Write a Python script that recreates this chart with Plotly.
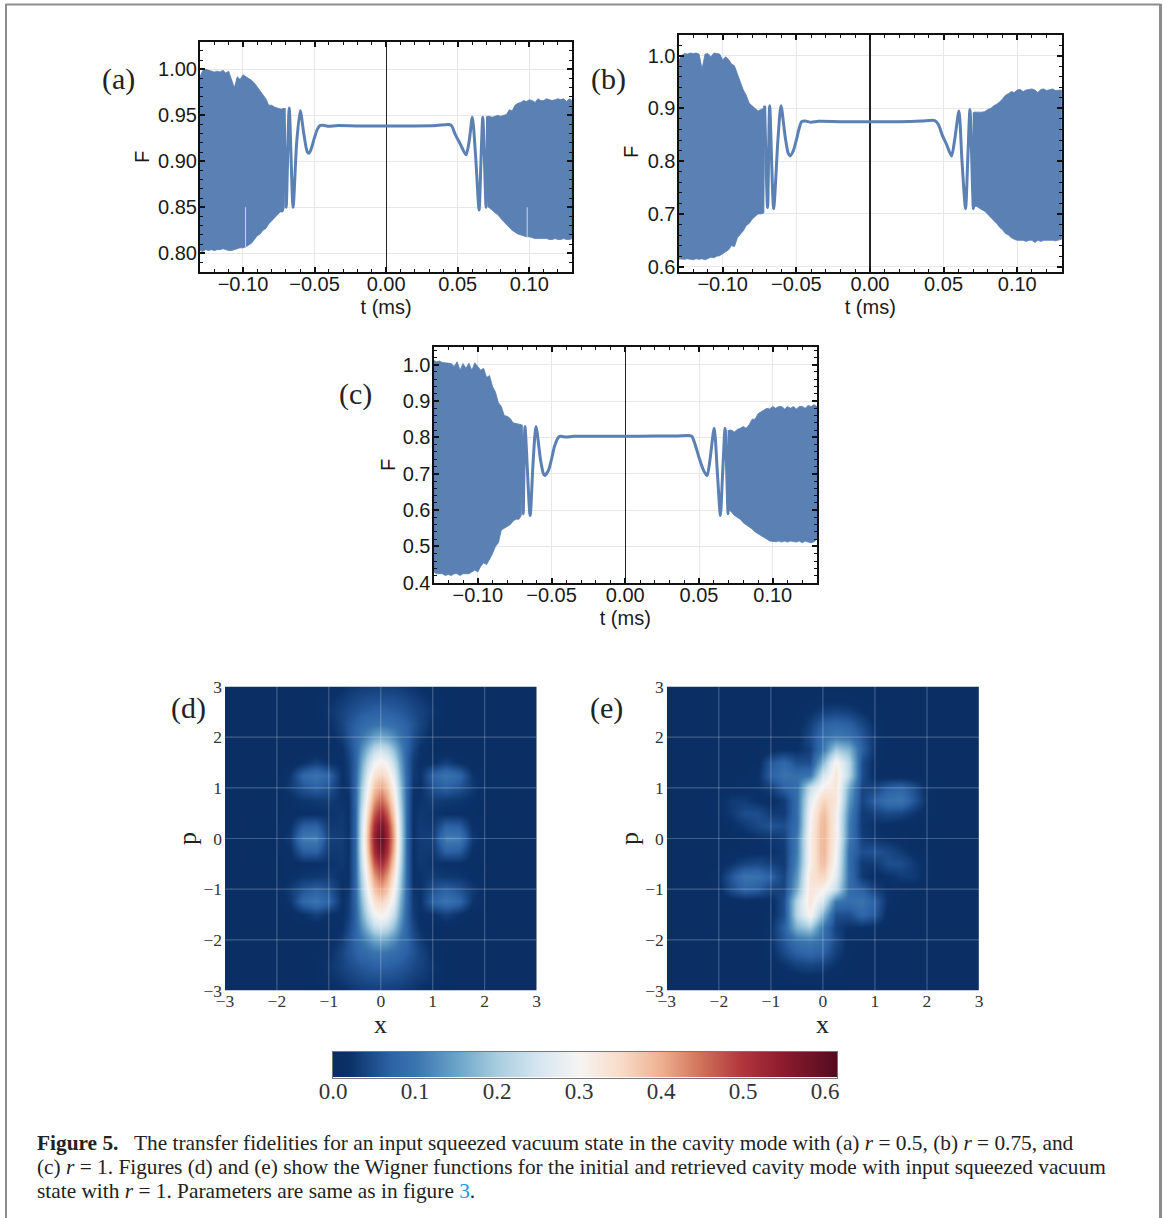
import numpy as np
import plotly.graph_objects as go

W, H = 1165, 1218
BLUE = "#5b80b4"

T_LEFT = [-.130,-.128,-.126,-.124,-.122,-.120,-.118,-.116,-.114,-.112,-.110,-.108,-.106,-.104,-.102,
          -.100,-.098,-.096,-.094,-.092,-.090,-.088,-.086,-.084,-.082,-.080,-.078,-.076,-.074,-.072]
T_RIGHT = [.072,.074,.076,.078,.080,.082,.084,.086,.088,.090,.092,.094,.096,.098,.100,
           .102,.104,.106,.108,.110,.112,.114,.116,.118,.120,.122,.124,.126,.128,.130]

# panel (a)
a_up_l = [.992,.999,1.0,.999,.998,.997,.998,.997,.999,.996,.998,.990,.980,.992,.989,.994,.992,.990,.988,.985,.981,.976,.972,.968,.961,.961,.959,.958,.957,.957]
a_lo_l = [.803,.802,.804,.803,.804,.803,.804,.804,.805,.804,.803,.803,.804,.805,.806,.806,.807,.809,.811,.815,.819,.821,.825,.827,.832,.835,.838,.842,.845,.845]
a_up_r = [.949,.948,.949,.950,.949,.950,.951,.956,.955,.961,.963,.964,.966,.965,.967,.966,.964,.968,.966,.966,.968,.967,.966,.967,.968,.967,.968,.965,.968,.966]
a_lo_r = [.850,.847,.844,.842,.838,.834,.831,.828,.825,.823,.821,.820,.819,.818,.818,.817,.816,.816,.816,.816,.816,.815,.815,.816,.815,.815,.816,.815,.815,.816]
a_edge = [-.0712, .957, .849, .0708, .949, .851]
a_ct = [-.0712,-.0698,-.0677,-.065,-.0625,-.060,-.0575,-.055,-.0537,-.052,-.050,-.048,-.046,-.044,-.040,-.035,-.02,0,.02,.035,.044,.046,.048,.052,.0558,.058,.0602,.0625,.0649,.0662,.0675,.0698,.0708]
a_cf = [.958,.85,.958,.85,.92,.955,.93,.91,.909,.915,.926,.935,.939,.9392,.938,.9388,.9385,.9385,.9385,.939,.94,.938,.93,.918,.907,.922,.948,.905,.847,.90,.948,.85,.949]

# panel (b)
b_up_l = [.990,1.000,1.004,1.003,1.005,1.004,1.005,1.003,.975,1.003,1.004,.998,1.005,1.004,1.003,.992,.998,.993,.984,.981,.965,.950,.935,.925,.910,.905,.900,.895,.898,.900]
b_lo_l = [.615,.615,.614,.615,.614,.613,.615,.614,.615,.613,.615,.618,.617,.620,.621,.625,.628,.632,.640,.638,.655,.662,.668,.678,.682,.690,.695,.700,.700,.702]
b_up_r = [.893,.892,.893,.894,.898,.900,.905,.908,.912,.918,.925,.928,.932,.930,.935,.936,.932,.935,.936,.937,.935,.930,.936,.937,.934,.935,.937,.934,.935,.935]
b_lo_r = [.715,.712,.708,.705,.700,.695,.688,.682,.675,.670,.663,.660,.655,.652,.650,.650,.650,.648,.650,.650,.646,.650,.648,.650,.650,.650,.650,.649,.650,.652]
b_edge = [-.0715, .905, .712, .0706, .893, .712]
b_ct = [-.0715,-.0695,-.0681,-.0654,-.0625,-.0604,-.0575,-.0555,-.0543,-.052,-.050,-.048,-.0464,-.044,-.040,-.035,-.02,0,.02,.035,.044,.0464,.049,.052,.0554,.0575,.0604,.0625,.0649,.0665,.0679,.0702,.0708]
b_cf = [.905,.712,.905,.71,.84,.905,.845,.815,.81,.82,.84,.863,.875,.876,.874,.8755,.875,.875,.875,.876,.877,.87,.85,.832,.81,.84,.895,.80,.71,.81,.898,.71,.893]

# panel (c)
c_up_l = [1.012,1.008,1.010,1.006,1.005,1.005,1.003,.995,1.008,.985,1.003,.990,1.004,.985,1.005,.995,.985,.990,.965,.970,.940,.925,.895,.885,.860,.858,.852,.840,.838,.835]
c_lo_l = [.430,.425,.425,.425,.420,.423,.420,.425,.425,.420,.425,.425,.425,.430,.435,.430,.445,.455,.450,.465,.480,.500,.510,.545,.550,.555,.560,.570,.575,.575]
c_up_r = [.820,.815,.822,.825,.830,.825,.835,.850,.850,.865,.870,.875,.880,.878,.885,.880,.885,.885,.878,.885,.880,.885,.878,.885,.885,.880,.888,.885,.890,.885]
c_lo_r = [.595,.585,.580,.575,.565,.560,.553,.548,.540,.535,.528,.525,.520,.515,.515,.513,.515,.512,.515,.512,.515,.513,.512,.515,.510,.515,.512,.510,.513,.520]
c_edge = [-.0705, .835, .585, .0704, .82, .60]
c_ct = [-.0705,-.0692,-.068,-.0645,-.0625,-.0605,-.0575,-.0555,-.0546,-.052,-.050,-.048,-.0454,-.044,-.040,-.035,-.02,0,.02,.035,.0449,.047,.050,.053,.0555,.0575,.0603,.0625,.0645,.066,.0677,.0697,.0704]
c_cf = [.835,.59,.83,.585,.73,.83,.74,.70,.695,.71,.74,.775,.80,.803,.801,.803,.803,.803,.804,.804,.804,.785,.745,.71,.695,.74,.825,.70,.585,.70,.825,.59,.82]

# thin pale slits in the band of panel (a)
a_slit_t = [-.0982, .0985]
a_slit_lo = [.806, .818]
a_slit_hi = [.85, .85]

# Wigner (d): quadrant x >= 0, p >= 0, mirrored to the other three
d_x = [0,.125,.25,.375,.5,.625,.75,1,1.25,1.5,1.75,2,2.5,3]
d_p = [0,.25,.5,.75,1,1.25,1.5,1.75,2,2.25,2.5,2.75,3]
d_q = [
 [.610,.530,.400,.240,.075,.022,.032,.035,.115,.110,.030,.012,.01,.01],
 [.580,.510,.385,.235,.075,.020,.030,.028,.070,.065,.020,.012,.01,.01],
 [.520,.465,.360,.225,.075,.020,.028,.022,.018,.018,.014,.010,.01,.01],
 [.460,.415,.330,.205,.075,.020,.022,.032,.028,.025,.018,.010,.01,.01],
 [.410,.375,.300,.190,.075,.025,.020,.055,.070,.055,.030,.012,.01,.01],
 [.360,.335,.270,.170,.075,.030,.020,.075,.100,.080,.025,.010,.01,.01],
 [.310,.290,.230,.150,.070,.032,.018,.020,.035,.020,.010,.010,.01,.01],
 [.240,.225,.180,.125,.072,.042,.020,.010,.010,.010,.010,.010,.01,.01],
 [.160,.150,.125,.098,.075,.052,.032,.012,.010,.010,.010,.010,.01,.01],
 [.100,.097,.090,.080,.068,.055,.040,.018,.011,.010,.010,.010,.01,.01],
 [.072,.070,.066,.061,.054,.046,.038,.025,.012,.010,.010,.010,.01,.01],
 [.052,.052,.050,.047,.042,.036,.030,.020,.012,.010,.010,.010,.01,.01],
 [.035,.035,.033,.031,.028,.024,.019,.012,.010,.010,.010,.010,.01,.01],
]

# Wigner (e): upper half, second half by 180-degree turn
e_x = [-3,-2.75,-2.5,-2.25,-2,-1.75,-1.5,-1.25,-1,-.75,-.5,-.25,0,.25,.5,.75,1,1.25,1.5,1.75,2,2.25,2.5,2.75,3]
e_p = [0,.25,.5,.75,1,1.25,1.5,1.75,2,2.25,2.5,2.75,3]
e_h = [
 [.01,.01,.01,.01,.01,.012,.015,.02,.025,.035,.11,.31,.40,.31,.11,.035,.025,.02,.015,.012,.01,.01,.01,.01,.01],
 [.01,.01,.01,.01,.012,.018,.03,.045,.055,.05,.09,.30,.40,.31,.11,.03,.02,.015,.012,.01,.01,.01,.01,.01,.01],
 [.01,.01,.01,.01,.015,.03,.05,.05,.03,.03,.09,.29,.39,.31,.12,.03,.035,.045,.04,.025,.012,.01,.01,.01,.01],
 [.01,.01,.01,.01,.015,.03,.03,.02,.015,.03,.09,.27,.36,.33,.14,.04,.07,.095,.10,.06,.02,.01,.01,.01,.01],
 [.01,.01,.01,.01,.01,.012,.015,.02,.035,.07,.09,.23,.31,.33,.16,.04,.04,.065,.075,.05,.015,.01,.01,.01,.01],
 [.01,.01,.01,.01,.01,.01,.012,.02,.07,.10,.09,.10,.25,.33,.22,.05,.012,.01,.01,.01,.01,.01,.01,.01,.01],
 [.01,.01,.01,.01,.01,.01,.01,.012,.06,.08,.05,.05,.17,.31,.22,.05,.015,.01,.01,.01,.01,.01,.01,.01,.01],
 [.01,.01,.01,.01,.01,.01,.01,.01,.015,.02,.02,.035,.10,.20,.17,.07,.022,.01,.01,.01,.01,.01,.01,.01,.01],
 [.01,.01,.01,.01,.01,.01,.01,.01,.01,.012,.015,.045,.09,.11,.10,.06,.025,.01,.01,.01,.01,.01,.01,.01,.01],
 [.01,.01,.01,.01,.01,.01,.01,.01,.01,.01,.015,.035,.07,.08,.07,.045,.018,.01,.01,.01,.01,.01,.01,.01,.01],
 [.01,.01,.01,.01,.01,.01,.01,.01,.01,.01,.012,.02,.035,.04,.035,.022,.012,.01,.01,.01,.01,.01,.01,.01,.01],
 [.01,.01,.01,.01,.01,.01,.01,.01,.01,.01,.01,.012,.015,.015,.015,.012,.01,.01,.01,.01,.01,.01,.01,.01,.01],
 [.01,.01,.01,.01,.01,.01,.01,.01,.01,.01,.01,.01,.01,.01,.01,.01,.01,.01,.01,.01,.01,.01,.01,.01,.01],
]

CB_MAX = 0.6146
cb_vals = [0,.02,.07,.10,.15,.20,.25,.30,.35,.40,.45,.50,.55,.60,CB_MAX]
cb_cols = ["#0b2d62","#0a3168","#2c62a6","#3a74ae","#6aa3c8","#a8cde0","#d6e6f0","#f6f4f2","#f8dcc9","#eeb08f","#cf6f58","#b0343c","#8b1a2e","#600f23","#500c1e"]
cb_ticks = [0,.1,.2,.3,.4,.5,.6]

cap1 = "<b>Figure 5.</b>\u00a0\u00a0 The transfer fidelities for an input squeezed vacuum state in the cavity mode with (a) <i>r</i> = 0.5, (b) <i>r</i> = 0.75, and"
cap2 = "(c) <i>r</i> = 1. Figures (d) and (e) show the Wigner functions for the initial and retrieved cavity mode with input squeezed vacuum"
cap3 = "state with <i>r</i> = 1. Parameters are same as in figure <span style='color:#1e9ad6'>3</span>."

SANS = "Liberation Sans"
SERIF = "Liberation Serif"
INK = "#1a1a1a"

fig = go.Figure()

def rect(ax, frame):
    l, r, t, b = frame
    fig.layout[f"xaxis{ax}"] = dict(domain=[l / W, r / W], anchor=f"y{ax}", automargin=False)
    fig.layout[f"yaxis{ax}"] = dict(domain=[1 - b / H, 1 - t / H], anchor=f"x{ax}", automargin=False)

def line_panel(ax, frame, xr, yr, ydt, ymn, yfmt, up_l, lo_l, up_r, lo_r, edge, ct, cf, zw):
    rect(ax, frame)
    xs = f"x{ax}"; ys = f"y{ax}"
    el, eul, ell, er, eur, elr = edge
    tl = T_LEFT + [el]
    ul = up_l + [eul]; ll = lo_l + [ell]
    tr = [er] + T_RIGHT
    ur = [eur] + up_r; lr = [elr] + lo_r
    fig.add_trace(go.Scatter(x=tl + tl[::-1], y=ul + ll[::-1], fill="toself", fillcolor=BLUE, mode="lines",
                             line=dict(color=BLUE, width=0.8), xaxis=xs, yaxis=ys, showlegend=False, hoverinfo="skip"))
    fig.add_trace(go.Scatter(x=tr + tr[::-1], y=ur + lr[::-1], fill="toself", fillcolor=BLUE, mode="lines",
                             line=dict(color=BLUE, width=0.8), xaxis=xs, yaxis=ys, showlegend=False, hoverinfo="skip"))
    fig.add_trace(go.Scatter(x=ct, y=cf, mode="lines", line=dict(color=BLUE, width=3, shape="spline", smoothing=0.7),
                             xaxis=xs, yaxis=ys, showlegend=False))
    fig.layout[f"xaxis{ax}"].update(
        range=xr, tick0=0, dtick=.05, tickformat=".2f", ticks="inside", ticklen=5, tickwidth=1.5, tickcolor="#111",
        showline=True, linewidth=2, linecolor="#111", mirror="ticks", showgrid=True, gridcolor="#e8e8e8", gridwidth=1,
        zeroline=True, zerolinecolor="#222", zerolinewidth=zw, ticklabelstandoff=-7,
        minor=dict(dtick=.01, tick0=0, ticks="inside", ticklen=3, tickwidth=1, tickcolor="#111", showgrid=False),
        tickfont=dict(family=SANS, size=20, color=INK),
        title=dict(text="t (ms)", font=dict(family=SANS, size=20, color=INK), standoff=6))
    fig.layout[f"yaxis{ax}"].update(
        range=yr, dtick=ydt, tick0=0, tickformat=yfmt, ticks="inside", ticklen=5, tickwidth=1.5, tickcolor="#111",
        showline=True, linewidth=2, linecolor="#111", mirror="ticks", showgrid=True, gridcolor="#e8e8e8", gridwidth=1,
        zeroline=False, ticklabelstandoff=-3,
        minor=dict(dtick=ymn, tick0=0, ticks="inside", ticklen=3, tickwidth=1, tickcolor="#111", showgrid=False),
        tickfont=dict(family=SANS, size=20, color=INK))

line_panel(1, (200, 572.3, 42, 272), [-.13, .13], [.7797, 1.0297], .05, .01, ".2f", a_up_l, a_lo_l, a_up_r, a_lo_r, a_edge, a_ct, a_cf, 1.3)
line_panel(2, (678.5, 1062, 35, 272), [-.13, .1304], [.59, 1.0392], .1, .02, ".1f", b_up_l, b_lo_l, b_up_r, b_lo_r, b_edge, b_ct, b_cf, 1.8)
line_panel(3, (433.5, 817, 346.5, 583), [-.13, .13], [.3995, 1.05], .1, .02, ".1f", c_up_l, c_lo_l, c_up_r, c_lo_r, c_edge, c_ct, c_cf, 1.2)

for i in range(2):
    fig.add_trace(go.Scatter(x=[a_slit_t[i]]*2, y=[a_slit_lo[i], a_slit_hi[i]], mode="lines", line=dict(color="#c9d6e8", width=1),
                             xaxis="x1", yaxis="y1", showlegend=False, hoverinfo="skip"))

# heatmaps
dq = np.array(d_q)
d_full_right = np.vstack([dq[:0:-1], dq])           # p from -3 to 3, x >= 0
d_z = np.hstack([d_full_right[:, :0:-1], d_full_right])
d_xf = [-v for v in d_x[:0:-1]] + d_x
d_pf = [-v for v in d_p[:0:-1]] + d_p
eh = np.array(e_h)
e_z = np.vstack([eh[:0:-1, ::-1], eh])
e_pf = [-v for v in e_p[:0:-1]] + e_p

ticks = [-3, -2, -1, 0, 1, 2, 3]
fig.add_trace(go.Heatmap(x=d_xf, y=d_pf, z=d_z, coloraxis="coloraxis", zsmooth="best", xaxis="x4", yaxis="y4"))
fig.add_trace(go.Heatmap(x=e_x, y=e_pf, z=e_z, coloraxis="coloraxis", zsmooth="best", xaxis="x5", yaxis="y5"))

# colour key, drawn as its own strip on a value axis
fig.add_trace(go.Heatmap(x=cb_vals, y=[0, 1], z=[cb_vals, cb_vals], coloraxis="coloraxis", zsmooth="best", xaxis="x6", yaxis="y6", hoverinfo="skip"))
rect(6, (333, 837, 1052, 1077.5))
fig.layout.xaxis6.update(range=[0, CB_MAX], tickvals=cb_ticks, tickformat=".1f", ticks="", showgrid=False, zeroline=False,
                         showline=True, linecolor="#777", linewidth=1, mirror=True, ticklabelstandoff=-7,
                         tickfont=dict(family=SERIF, size=23, color="#333"))
fig.layout.yaxis6.update(range=[0, 1], showticklabels=False, ticks="", showgrid=False, zeroline=False,
                         showline=True, linecolor="#777", linewidth=1, mirror=True)

shapes = []
for ax, frame in ((4, (225, 536.5, 686.5, 990.5)), (5, (666.8, 979, 686.5, 990.5))):
    rect(ax, frame)
    fig.layout[f"xaxis{ax}"].update(
        range=[-3, 3], tickvals=ticks, showgrid=False, zeroline=False, showline=False, ticks="", ticklabelstandoff=-2,
        tickfont=dict(family=SERIF, size=17.5, color="#333"))
    fig.layout[f"yaxis{ax}"].update(
        range=[-3, 3], tickvals=ticks, showgrid=False, zeroline=False, showline=False, ticks="", ticklabelstandoff=2,
        tickfont=dict(family=SERIF, size=17.5, color="#333"))
    for v in ticks[1:-1]:
        shapes.append(dict(type="line", xref=f"x{ax}", yref=f"y{ax}", x0=v, x1=v, y0=-3, y1=3,
                           line=dict(color="rgba(255,255,255,0.22)", width=1.2)))
        shapes.append(dict(type="line", xref=f"x{ax}", yref=f"y{ax}", x0=-3, x1=3, y0=v, y1=v,
                           line=dict(color="rgba(255,255,255,0.22)", width=1.2)))

# page frame
FR = "#8c8c8c"
shapes += [
    dict(type="line", xref="paper", yref="paper", x0=5.5/W, x1=1161/W, y0=1-4.5/H, y1=1-4.5/H, line=dict(color=FR, width=2)),
    dict(type="line", xref="paper", yref="paper", x0=6/W, x1=6/W, y0=0, y1=1-4/H, line=dict(color=FR, width=2)),
    dict(type="line", xref="paper", yref="paper", x0=1160.5/W, x1=1160.5/W, y0=0, y1=1-4/H, line=dict(color=FR, width=3)),
]

def note(text, x, y, size, family=SERIF, anchor="center", color="#222", angle=0):
    return dict(text=text, xref="paper", yref="paper", x=x / W, y=1 - y / H, showarrow=False, xanchor=anchor, yanchor="middle",
                font=dict(family=family, size=size, color=color), align="left", textangle=angle)

anns = [note("(a)", 118, 79, 30), note("(b)", 608, 79, 30), note("(c)", 355, 394, 30),
        note("(d)", 188, 708, 30), note("(e)", 606, 708, 30),
        note("F", 142, 157, 20, SANS, color=INK, angle=-90), note("F", 631, 152, 20, SANS, color=INK, angle=-90),
        note("F", 388, 465, 20, SANS, color=INK, angle=-90),
        note("p", 187, 839, 26, angle=-90), note("p", 629, 839, 26, angle=-90),
        note("x", 380, 1024, 26), note("x", 822, 1024, 26),
        note(cap1, 34.5, 1143, 21.35, anchor="left"), note(cap2, 34.5, 1167, 21.35, anchor="left"), note(cap3, 34.5, 1191, 21.35, anchor="left")]

cs = [[v / CB_MAX, c] for v, c in zip(cb_vals, cb_cols)]
fig.update_layout(
    width=W, height=H, margin=dict(l=0, r=0, t=0, b=0), autosize=False,
    paper_bgcolor="white", plot_bgcolor="white", showlegend=False, shapes=shapes, annotations=anns,
    coloraxis=dict(cmin=0, cmax=CB_MAX, colorscale=cs, showscale=False),
)

fig.write_html("out.html", config=dict(displayModeBar=False),
               post_script="document.body.style.margin='0';document.body.style.overflow='hidden';")
